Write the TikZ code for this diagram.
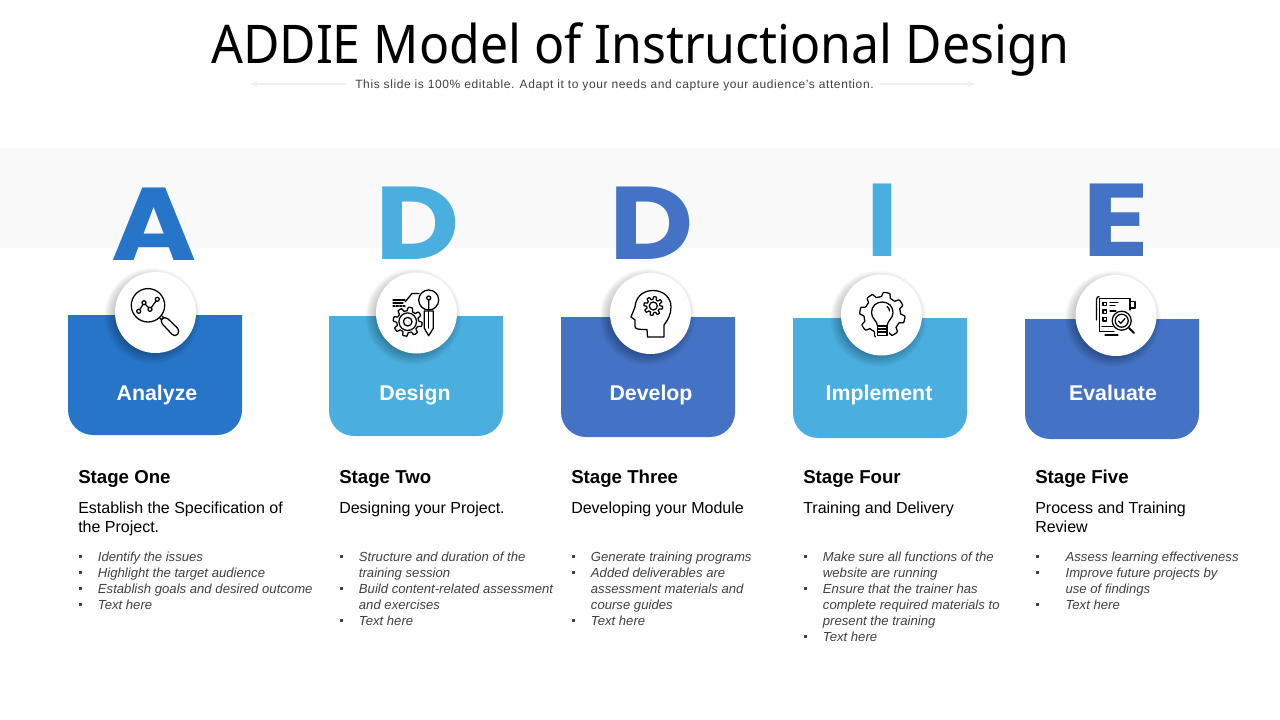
\documentclass[tikz,border=0pt]{standalone}
\usepackage{fontspec}
\setmainfont{Liberation Sans}
\newfontfamily\titlefont{Noto Sans}
\newfontfamily\letterfont{Poppins}
\usetikzlibrary{arrows.meta}
\definecolor{bluedark}{HTML}{2775C9}
\definecolor{bluesky}{HTML}{4AAEDF}
\definecolor{bluemid}{HTML}{4472C4}
\definecolor{bandgray}{HTML}{F9F9F9}
\definecolor{textgray}{HTML}{404040}
\definecolor{rulegray}{HTML}{F0F0F0}
\tikzset{
  iconline/.style={black,line width=0.95pt,line join=round,line cap=round},
  bigletter/.style={anchor=base,inner sep=0,font=\letterfont\bfseries\fontsize{77.5}{80}\selectfont},
  cardlabel/.style={anchor=base,inner sep=0,text=white,font=\bfseries\fontsize{16}{19}\selectfont},
  stagehead/.style={anchor=base west,inner sep=0,font=\bfseries\fontsize{14}{17}\selectfont},
  stagesub/.style={anchor=north west,inner sep=0,align=left,font=\fontsize{12}{14.25}\selectfont},
  stagelist/.style={anchor=north west,inner sep=0,text=textgray,font=\itshape\fontsize{9.85}{12}\selectfont},
  guide/.style={rulegray,line width=1.2pt,-{Stealth[length=6pt,width=5pt]}}
}
\newcommand{\gearshape}[5]{\draw[iconline] plot[domain=0:360,samples=145] ({#1+(#3+#4*min(1,max(-1,2.5*sin(#5*\x))))*cos(\x)},{#2+(#3+#4*min(1,max(-1,2.5*sin(#5*\x))))*sin(\x)}) -- cycle;}
\newcommand{\bul}{\textcolor{textgray}{\rule[2.8pt]{2.4pt}{2.4pt}}}
\begin{document}
\begin{tikzpicture}[x=0.75pt,y=-0.75pt]
  \useasboundingbox (0,0) rectangle (1280,720);
  \fill[bandgray] (0,148) rectangle (1280,248);
  % title
  \node[anchor=base,inner sep=0,font=\titlefont\fontsize{40}{48}\selectfont] (title) at (640,64) {\scalebox{0.937}[1]{ADDIE Model of Instructional Design}};
  \node[anchor=base,inner sep=0,text=textgray,font=\addfontfeature{LetterSpace=5}\fontsize{9}{11}\selectfont] (tagline) at (614.5,89) {This slide is 100\% editable. Adapt it to your needs and capture your audience's attention.};
  \coordinate (guideL) at (250,84);
  \coordinate (guideR) at (975,84);
  \draw[guide] (tagline.west |- guideL) ++(-9,0) -- (guideL);
  \draw[guide] (tagline.east |- guideR) ++(6,0) -- (guideR);
  % letters
  \node[bigletter,text=bluedark] (letterA) at (154,260) {\scalebox{1.12}[1]{A}};
  \node[bigletter,text=bluesky] (letterD) at (417.5,259) {\scalebox{1.12}[1]{D}};
  \node[bigletter,text=bluemid] (letterDD) at (651.5,259) {\scalebox{1.12}[1]{D}};
  \node[bigletter,text=bluesky] (letterI) at (882,257) {\scalebox{1.05}[1]{I}};
  \node[bigletter,text=bluemid] (letterE) at (1116.5,256) {\scalebox{1.2}[1]{E}};
  % cards and discs
  \foreach \x/\y/\cx/\cy/\col/\lx/\lab/\n in {
    68/315/155.5/312.5/bluedark/157/Analyze/1,
    329/316/416.5/313/bluesky/415/Design/2,
    561/317/650.5/313.5/bluemid/651/Develop/3,
    793/318/881.5/315/bluesky/879/Implement/4,
    1025/319/1116/315.5/bluemid/1113/Evaluate/5}{
    \fill[\col] (\x,\y) -- ++(174,0) [rounded corners=18.75pt] -- ++(0,120) -- ++(-174,0) [sharp corners] -- cycle;
    \foreach \r in {48,47,...,34}
      \fill[black,opacity=0.022] (\cx-3,\cy+3.5) circle[radius=\r];
    \fill[white] (\cx,\cy) circle[radius=40.5];
    \node[cardlabel] (label\n) at (\lx,400) {\lab};
  }
  % icon analyze
  \draw[iconline] (148,305.3) circle[radius=16.7];
  \draw[iconline] (138.7,311.3) -- (144,302.7) -- (150,309.3) -- (157.3,299.3);
  \foreach \p in {(138.7,311.3),(144,302.7),(150,309.3),(157.3,299.3)}
    \draw[iconline,fill=white] \p circle[radius=2];
  \draw[iconline] (159.5,317.5) -- (161.5,320) (162,316) -- (164,318);
  \draw[iconline,rounded corners=3.2pt] (159.5,321) -- (165,316) -- (180.5,331) -- (175,337.5) -- cycle;
  % icon design
  \gearshape{407.7}{321.7}{12.7}{1.8}{8}
  \draw[iconline] (407.7,321.7) circle[radius=8.8];
  \draw[iconline] (407.7,321.7) circle[radius=4.3];
  \draw[iconline] (428.7,300) circle[radius=10];
  \draw[iconline] (428.7,310) -- (428.7,300) (428.7,298) circle[radius=2];
  \draw[iconline,fill=white] (424.3,311) -- (433.3,311) -- (433.3,328.3) -- (428.7,335.7) -- (424.3,328.3) -- cycle;
  \draw[iconline] (428.7,311) -- (428.7,328);
  \draw[iconline] (393,300) -- (405,300) (393,303) -- (403,303);
  \draw[iconline,dashed,dash pattern=on 1.5pt off 1pt] (393,306) -- (405,306);
  \draw[iconline] (405,302) -- (412,293.5) -- (419,293.5);
  % icon develop
  \draw[iconline] (664,337) -- (664,325) .. controls (668,320) and (671,314) .. (671,307) .. controls (671,297) and (663,290.5) .. (653,290.5) .. controls (642,290.5) and (635.5,298) .. (635,307) -- (631,317) -- (635,320) -- (635,326) .. controls (635,329) and (637,329.5) .. (647,329.5) -- (647.5,337) -- cycle;
  \gearshape{653.3}{306}{8}{1.4}{8}
  \draw[iconline] (653.3,306) circle[radius=4];
  % icon implement
  \gearshape{882.3}{315}{20.5}{2.2}{8}
  \fill[white] (876,328) rectangle (889,340);
  \draw[iconline] (877.5,326) .. controls (877,320) and (871.5,319) .. (871.5,312.5) .. controls (871.5,306) and (876.5,302) .. (882.3,302) .. controls (888,302) and (893,306) .. (893,312.5) .. controls (893,319) and (887.5,320) .. (887,326);
  \draw[iconline] (877.5,326) rectangle (887,335.5);
  \draw[iconline] (877.5,329) -- (887,329) (877.5,332) -- (887,332);
  \draw[iconline] (887,306.5) .. controls (888.5,307.5) and (889.5,309) .. (889.5,311);
  % icon evaluate
  \draw[iconline] (1099.3,298.3) -- (1130,298.3) -- (1130,310) (1099.3,298.3) -- (1099.3,331.7) -- (1114,331.7);
  \draw[iconline] (1096.5,320) -- (1096.5,300) .. controls (1096.5,297.5) and (1097.5,296.5) .. (1099,296.5);
  \draw[iconline] (1130,301.5) -- (1135,301.5) -- (1135,308) -- (1130,308);
  \foreach \y in {304,311.7,319.3}
    \draw[iconline] (1103,\y-1.8) rectangle (1106.5,\y+1.8);
  \draw[iconline] (1110,302.5) -- (1118,302.5) (1110,305.5) -- (1115,305.5) (1110,311) -- (1116,311);
  \draw[iconline] (1102,326.5) -- (1113,326.5) (1105,335) -- (1118,335);
  \draw[iconline,fill=white] (1121.7,320.7) circle[radius=9.5];
  \draw[iconline] (1121.7,320.7) circle[radius=6.5];
  \draw[iconline] (1118.5,321) -- (1120.8,323.2) -- (1125,318.5);
  \draw[iconline,line width=1.5pt] (1129,328) -- (1134,333);
  % text columns
  \node[stagehead] (head1) at (78,483) {Stage One};
  \node[stagesub] (sub1) at (78,499.7) {\strut Establish the Specification of\\the Project.};
  \node[stagelist] (list1) at (79,550) {\begin{tabular}{@{}p{14pt}@{}l@{}}
    \bul & Identify the issues\\
    \bul & Highlight the target audience\\
    \bul & Establish goals and desired outcome\\
    \bul & Text here
  \end{tabular}};
  \node[stagehead] (head2) at (339,483) {Stage Two};
  \node[stagesub] (sub2) at (339,499.7) {\strut Designing your Project.};
  \node[stagelist] (list2) at (340,550) {\begin{tabular}{@{}p{14pt}@{}l@{}}
    \bul & Structure and duration of the\\
         & training session\\
    \bul & Build content-related assessment\\
         & and exercises\\
    \bul & Text here
  \end{tabular}};
  \node[stagehead] (head3) at (571,483) {Stage Three};
  \node[stagesub] (sub3) at (571,499.7) {\strut Developing your Module};
  \node[stagelist] (list3) at (572,550) {\begin{tabular}{@{}p{14pt}@{}l@{}}
    \bul & Generate training programs\\
    \bul & Added deliverables are\\
         & assessment materials and\\
         & course guides\\
    \bul & Text here
  \end{tabular}};
  \node[stagehead] (head4) at (803,483) {Stage Four};
  \node[stagesub] (sub4) at (803,499.7) {\strut Training and Delivery};
  \node[stagelist] (list4) at (804,550) {\begin{tabular}{@{}p{14pt}@{}l@{}}
    \bul & Make sure all functions of the\\
         & website are running\\
    \bul & Ensure that the trainer has\\
         & complete required materials to\\
         & present the training\\
    \bul & Text here
  \end{tabular}};
  \node[stagehead] (head5) at (1035,483) {Stage Five};
  \node[stagesub] (sub5) at (1035,499.7) {\strut Process and Training\\Review};
  \node[stagelist] (list5) at (1036,550) {\begin{tabular}{@{}p{22pt}@{}l@{}}
    \bul & Assess learning effectiveness\\
    \bul & Improve future projects by\\
         & use of findings\\
    \bul & Text here
  \end{tabular}};
\end{tikzpicture}
\end{document}
